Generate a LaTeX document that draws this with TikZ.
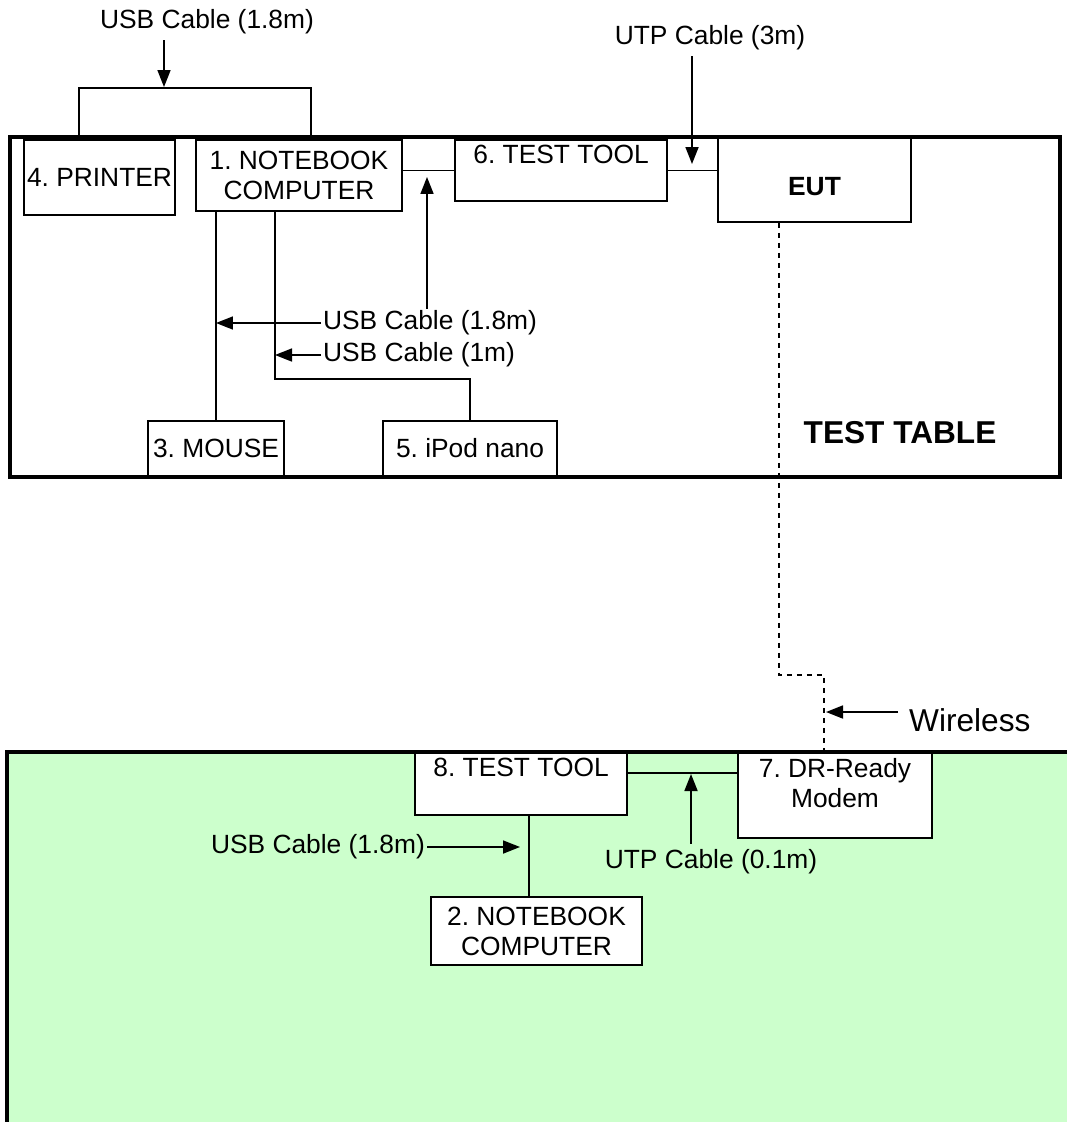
\documentclass[tikz,border=0pt]{standalone}
\usepackage{fontspec}
\setmainfont{Liberation Sans}
\usetikzlibrary{arrows.meta, positioning}
\definecolor{tablegreen}{RGB}{204, 255, 204}

\begin{document}
\frenchspacing
\begin{tikzpicture}[x=0.02cm, y=-0.02cm,
    font=\fontsize{15}{17}\selectfont,
    device/.style={rectangle, draw, fill=white, line width=0.04cm, align=center, inner sep=1pt},
    toptext/.style={label={[anchor=north, align=center]north:#1}},
    tableline/.style={line width=0.08cm},
    cable/.style={line width=0.035cm},
    arrow/.style={-{Triangle[length=0.34cm, width=0.26cm]}, line width=0.035cm},
    wireless/.style={line width=0.035cm, dash pattern=on 0.1cm off 0.1cm}
]
    \useasboundingbox (0,0) rectangle (1067,1122);

    % tables
    \fill[tablegreen] (7,752) rectangle (1067,1122);
    \draw[tableline] (7,1122) -- (7,752) -- (1067,752);
    \draw[tableline] (10,137) rectangle (1060,477);
    \node[font=\fontsize{18}{20}\selectfont\bfseries] (tt) at (900,433) {TEST TABLE};

    % devices on the test table
    \node[device, minimum width=3.02cm, minimum height=1.5cm] (prn) at (99.5,177.5) {4. PRINTER};
    \node[device, minimum width=4.12cm, minimum height=1.42cm] (nb1) at (299,175.5) {1. NOTEBOOK\\COMPUTER};
    \node[device, minimum width=4.24cm, minimum height=1.22cm, toptext={6. TEST TOOL}] (tt6) at (561,170.5) {};
    \node[device, minimum width=3.86cm, minimum height=1.68cm,
          label={[yshift=-0.14cm, font=\fontsize{15}{17}\selectfont\bfseries]center:EUT}] (eut) at (814.5,180) {};
    \node[device, minimum width=2.72cm, minimum height=1.1cm] (mouse) at (216,448.5) {3. MOUSE};
    \node[device, minimum width=3.5cm, minimum height=1.1cm] (ipod) at (470,448.5) {5. iPod nano};

    % devices on the green table
    \node[device, minimum width=4.24cm, minimum height=1.24cm, toptext={8. TEST TOOL}] (tt8) at (521,784) {};
    \node[device, minimum width=3.88cm, minimum height=1.7cm, toptext={7. DR-Ready\\Modem}] (modem) at (835,795.5) {};
    \node[device, minimum width=4.22cm, minimum height=1.36cm] (nb2) at (536.5,931) {2. NOTEBOOK\\COMPUTER};

    % cable labels
    \node (usb1) at (207,22) {USB Cable (1.8m)};
    \node (utp1) at (710,38) {UTP Cable (3m)};
    \node[anchor=west, inner sep=1pt] (usb2) at (321,323) {USB Cable (1.8m)};
    \node[anchor=west, inner sep=1pt] (usb3) at (321,355) {USB Cable (1m)};
    \node[font=\fontsize{18}{20}\selectfont, anchor=west] (wls) at (903,720) {Wireless};
    \node (utp2) at (711,862) {UTP Cable (0.1m)};
    \node[anchor=east, inner sep=1pt] (usb4) at (427,847) {USB Cable (1.8m)};

    \coordinate (usb1tip) at (164,87);
    \coordinate (utp1tip) at (692,164);
    \coordinate (usb2tip) at (427,177);
    \coordinate (bend) at (275,379);
    \coordinate (wl) at (779,675);
    \coordinate (wl2) at (824,752);
    \coordinate (wltip) at (826,712);
    \coordinate (u8) at (691,773);
    \coordinate (u8tip) at (691,774);
    \coordinate (usb4tip) at (520,848);

    % cables
    \draw[cable] ([xshift=-0.41cm]prn.north) -- ++(0,-51) -| ([xshift=0.24cm]nb1.north);
    \draw[arrow] (usb1.south -| usb1tip) -- (usb1tip);
    \draw[cable] (tt6.west) -- (tt6.west -| nb1.east);
    \draw[cable] (tt6.east) -- (tt6.east -| eut.west);
    \draw[arrow] (utp1.south -| utp1tip) -- (utp1tip);
    \draw[arrow] (usb2.north -| usb2tip) -- (usb2tip);
    \draw[cable] (mouse.north |- nb1.south) -- (mouse.north);
    \draw[cable] (bend |- nb1.south) -- (bend) -| (ipod.north);
    \draw[arrow] (usb2.west) -- (usb2.west -| mouse.north);
    \draw[arrow] (usb3.west) -- (usb3.west -| bend);
    \draw[wireless] (wl |- eut.south) -- (wl) -| (wl2);
    \draw[arrow, shorten <=0.1cm] (wls.west |- wltip) -- (wltip);
    \draw[cable] (tt8.east |- u8) -- (modem.west |- u8);
    \draw[arrow] (utp2.north -| u8tip) -- (u8tip);
    \draw[cable] ([xshift=-0.15cm]nb2.north) -- ([xshift=-0.15cm]nb2.north |- tt8.south);
    \draw[arrow] (usb4.east) -- (usb4.east -| usb4tip);
\end{tikzpicture}
\end{document}
